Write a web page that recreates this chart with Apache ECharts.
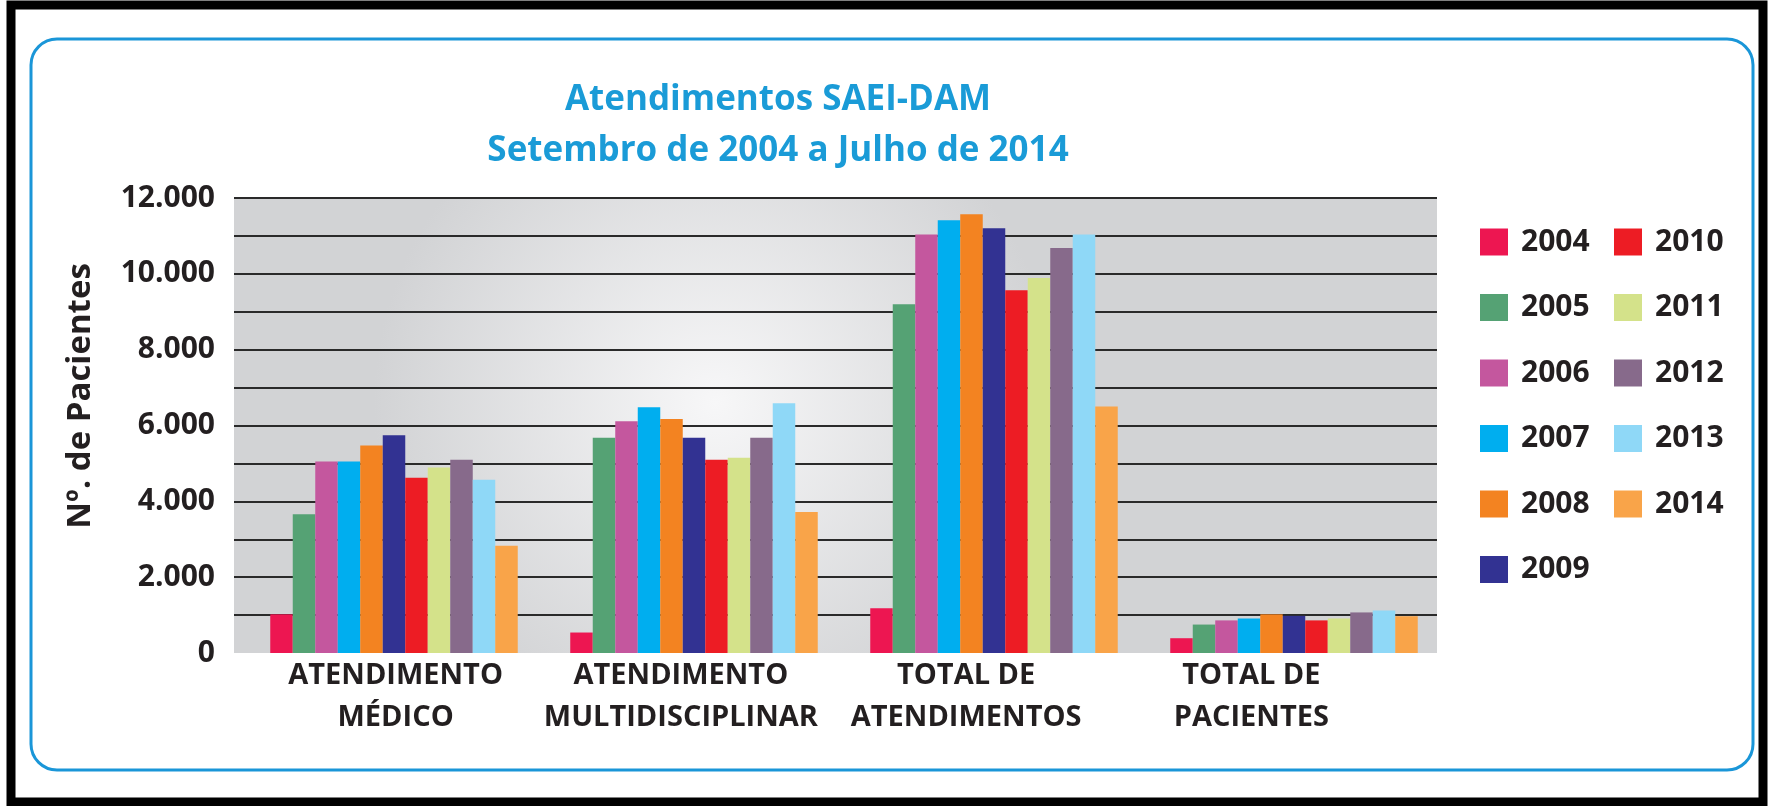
<!DOCTYPE html>
<html>
<head>
<meta charset="utf-8">
<title>Atendimentos SAEI-DAM</title>
<script src="https://cdn.jsdelivr.net/npm/echarts@6/dist/echarts.min.js"></script>
<style>
  html, body { margin: 0; padding: 0; background: #fff; }
  #chart { width: 1768px; height: 806px; }
</style>
</head>
<body>
<div id="chart"></div>
<script>
// categorias e valores
var categorias = ['ATENDIMENTO\nMÉDICO', 'ATENDIMENTO\nMULTIDISCIPLINAR', 'TOTAL DE\nATENDIMENTOS', 'TOTAL DE\nPACIENTES'];
var anos = ['2004', '2005', '2006', '2007', '2008', '2009', '2010', '2011', '2012', '2013', '2014'];
var cores = ['#ED1651', '#55A274', '#C4579E', '#00AEEF', '#F38321', '#323292', '#ED1C24', '#D4E28A', '#876A8B', '#8FD8F7', '#F9A449'];

var v2004 = [1020, 540, 1180, 390];
var v2005 = [3660, 5680, 9200, 750];
var v2006 = [5050, 6110, 11040, 860];
var v2007 = [5050, 6480, 11410, 910];
var v2008 = [5470, 6170, 11570, 1020];
var v2009 = [5740, 5680, 11200, 980];
var v2010 = [4620, 5100, 9570, 860];
var v2011 = [4890, 5150, 9890, 910];
var v2012 = [5100, 5680, 10680, 1070];
var v2013 = [4570, 6590, 11040, 1120];
var v2014 = [2830, 3720, 6500, 970];
var valores = [v2004, v2005, v2006, v2007, v2008, v2009, v2010, v2011, v2012, v2013, v2014];

var rotulosY = {0: '0', 2000: '2.000', 4000: '4.000', 6000: '6.000', 8000: '8.000', 10000: '10.000', 12000: '12.000'};

var fonte = '"Open Sans", "DejaVu Sans", sans-serif';

// linhas de grade: nenhuma no zero, as outras escuras
var coresGrade = ['rgba(0,0,0,0)'];
for (var i = 0; i < 12; i++) coresGrade.push('#2a2a2a');

var series = [];
for (var k = 0; k < anos.length; k++) {
  series.push({
    name: anos[k],
    type: 'bar',
    xAxisIndex: 1,
    yAxisIndex: 1,
    data: valores[k],
    barGap: '0%',
    barCategoryGap: '17.5%',
    itemStyle: { color: cores[k] }
  });
}

var legenda = {
  orient: 'vertical',
  selectedMode: false,
  itemWidth: 28,
  itemHeight: 27,
  itemGap: 35.5,
  icon: 'rect',
  top: 222,
  textStyle: { fontFamily: fonte, fontWeight: 'bold', fontSize: 30, color: '#231f20', padding: [0, 0, 0, 8] }
};

var chart = echarts.init(document.getElementById('chart'));
var option = {
  animation: false,
  backgroundColor: '#fff',
  textStyle: { fontFamily: fonte },
  title: {
    text: 'Atendimentos SAEI-DAM\nSetembro de 2004 a Julho de 2014',
    left: 773,
    top: 70,
    textAlign: 'center',
    textStyle: { fontFamily: fonte, fontWeight: 'bold', fontSize: 35, color: '#1a9bd7', lineHeight: 51 }
  },
  legend: [
    Object.assign({}, legenda, { left: 1475, data: anos.slice(0, 6) }),
    Object.assign({}, legenda, { left: 1609, data: anos.slice(6) })
  ],
  grid: [
    {
      // fundo cinza e linhas de grade
      left: 234, right: 331, top: 198, bottom: 153,
      show: true,
      borderWidth: 0,
      backgroundColor: new echarts.graphic.RadialGradient(0.4, 0.45, 0.75, [
        { offset: 0, color: '#f7f7f8' },
        { offset: 1, color: '#d2d3d5' }
      ])
    },
    {
      // barras
      left: 244, right: 324, top: 198, bottom: 153
    },
    {
      // rotulos das categorias
      left: 253, right: 374, top: 198, bottom: 153
    }
  ],
  xAxis: [
    { type: 'category', gridIndex: 0, data: categorias, show: false },
    { type: 'category', gridIndex: 1, data: categorias, show: false },
    {
      type: 'category',
      gridIndex: 2,
      data: categorias,
      axisLine: { show: false },
      axisTick: { show: false },
      axisLabel: {
        margin: 2,
        interval: 0,
        fontFamily: fonte,
        fontWeight: 'bold',
        fontSize: 29,
        lineHeight: 42,
        color: '#231f20'
      }
    }
  ],
  yAxis: [
    {
      type: 'value',
      gridIndex: 0,
      min: 0,
      max: 12000,
      interval: 1000,
      axisLine: { show: false },
      axisTick: { show: false },
      axisLabel: {
        margin: 19,
        fontFamily: fonte,
        fontWeight: 'bold',
        fontSize: 30,
        color: '#231f20',
        formatter: function (v) { return rotulosY[v] || ''; }
      },
      splitLine: { lineStyle: { color: coresGrade, width: 2 } }
    },
    { type: 'value', gridIndex: 1, min: 0, max: 12000, interval: 1000, show: false, splitLine: { show: false } },
    { type: 'value', gridIndex: 2, min: 0, max: 12000, interval: 1000, show: false, splitLine: { show: false } }
  ],
  graphic: [
    {
      type: 'rect', z: -10, silent: true,
      shape: { x: 11, y: 5, width: 1752, height: 797 },
      style: { fill: '#fff', stroke: '#000', lineWidth: 9 }
    },
    {
      type: 'rect', z: -5, silent: true,
      shape: { x: 31, y: 39, width: 1722, height: 731, r: 26 },
      style: { fill: '#fff', stroke: '#1a96d8', lineWidth: 3 }
    },
    {
      type: 'text', silent: true,
      x: 81, y: 396, rotation: Math.PI / 2,
      style: {
        text: 'Nº. de Pacientes',
        align: 'center', verticalAlign: 'middle',
        font: 'bold 33px "Open Sans", sans-serif',
        fill: '#231f20'
      }
    }
  ],
  series: series
};
chart.setOption(option);
</script>
</body>
</html>
